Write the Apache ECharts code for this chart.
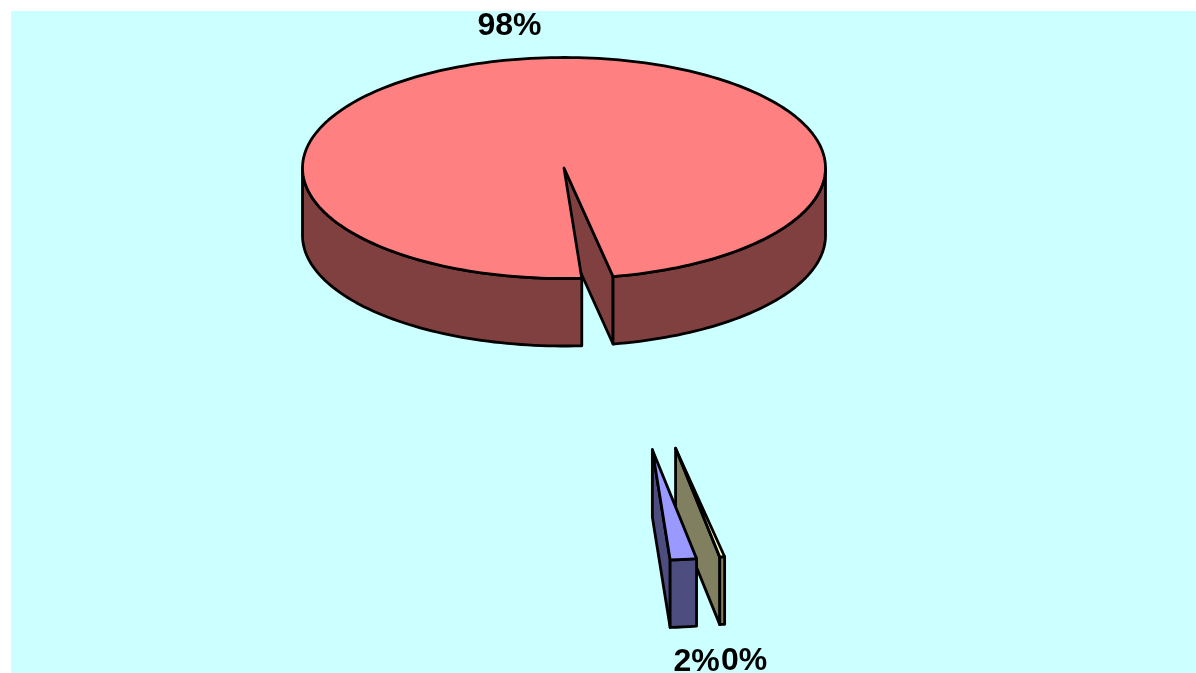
<!DOCTYPE html>
<html>
<head>
<meta charset="utf-8">
<style>html,body{margin:0;padding:0;background:#fff}#chart{width:1196px;height:673px}</style>
<script src="https://cdn.jsdelivr.net/npm/echarts@6/dist/echarts.min.js"></script>
</head>
<body>
<div id="chart"></div>
<script>
// Data, in drawing order
const categories = ['Slice 1', 'Slice 2', 'Slice 3'];
const shares = [98.08, 0.3, 1.62];

// Styling and layout
const topColors = ['#FF8080', '#FFFFC0', '#9999FF'];
const sideColors = ['#804040', '#808060', '#4D4D80'];
const PIE = { cx: 564, cy: 168, rx: 261.5, ry: 110.5, depth: 67.5, startAngle: -3.9 };
const explodeDist = [0, 672.5, 672.5];
const explodeBearing = [0, 9.55, 7.55];
const labelCenters = [[509.5, 26], [744, 661], [696.5, 662]];

const total = shares.reduce((a, b) => a + b, 0);
const rad = d => d * Math.PI / 180;

function renderSlice(params, api) {
  const i = params.dataIndex;
  const v = api.value(0);
  let before = 0;
  for (let k = 0; k < i; k++) before += shares[k];
  const a0 = PIE.startAngle + before / total * 360;
  const a1 = a0 + v / total * 360;
  // angle is measured clockwise on screen from the bottom of the ellipse
  const cx = PIE.cx + explodeDist[i] * Math.sin(rad(explodeBearing[i]));
  const cy = PIE.cy + explodeDist[i] * Math.cos(rad(explodeBearing[i])) * PIE.ry / PIE.rx;
  const pt = (a, dz) => [cx - PIE.rx * Math.sin(rad(a)), cy + PIE.ry * Math.cos(rad(a)) + (dz || 0)];
  const arc = (s, e, dz) => {
    const out = [], n = Math.max(2, Math.ceil(Math.abs(e - s) / 1.5));
    for (let k = 0; k <= n; k++) out.push(pt(s + (e - s) * k / n, dz));
    return out;
  };
  const line = { stroke: '#000', lineWidth: 2.8, lineJoin: 'round' };
  const poly = (points, fill) => ({
    type: 'polygon', shape: { points }, style: Object.assign({ fill }, line)
  });
  const kids = [];
  const d = PIE.depth;
  const apex = [cx, cy], apexLow = [cx, cy + d];
  // radial cut faces
  if (Math.sin(rad(a0)) > 0) kids.push(poly([apex, pt(a0), pt(a0, d), apexLow], sideColors[i]));
  if (Math.sin(rad(a1)) < 0) kids.push(poly([apex, pt(a1), pt(a1, d), apexLow], sideColors[i]));
  // outer wall: only the parts in the front half of the ellipse
  const fronts = [[-90, 90], [270, 450]];
  fronts.forEach(([f0, f1]) => {
    const s = Math.max(a0, f0), e = Math.min(a1, f1);
    if (e > s) kids.push(poly(arc(s, e, 0).concat(arc(e, s, d)), sideColors[i]));
  });
  // top face
  kids.push(poly([apex].concat(arc(a0, a1, 0)), topColors[i]));
  // percentage label
  kids.push({
    type: 'text',
    style: {
      text: Math.round(v / total * 100) + '%',
      x: labelCenters[i][0], y: labelCenters[i][1],
      align: 'center', verticalAlign: 'middle',
      fill: '#000', font: 'bold 32px "Liberation Sans", Arial, sans-serif'
    }
  });
  return { type: 'group', children: kids };
}

const chart = echarts.init(document.getElementById('chart'), null, { renderer: 'canvas' });
chart.setOption({
  animation: false,
  backgroundColor: '#FFFFFF',
  graphic: [{
    type: 'rect', z: -10, silent: true,
    shape: { x: 11, y: 11, width: 1185, height: 662 },
    style: { fill: '#CCFFFF' }
  }],
  series: [{
    type: 'custom',
    coordinateSystem: 'none',
    renderItem: renderSlice,
    data: categories.map((name, i) => ({ name, value: [shares[i]] })),
    silent: true
  }]
});
</script>
</body>
</html>
